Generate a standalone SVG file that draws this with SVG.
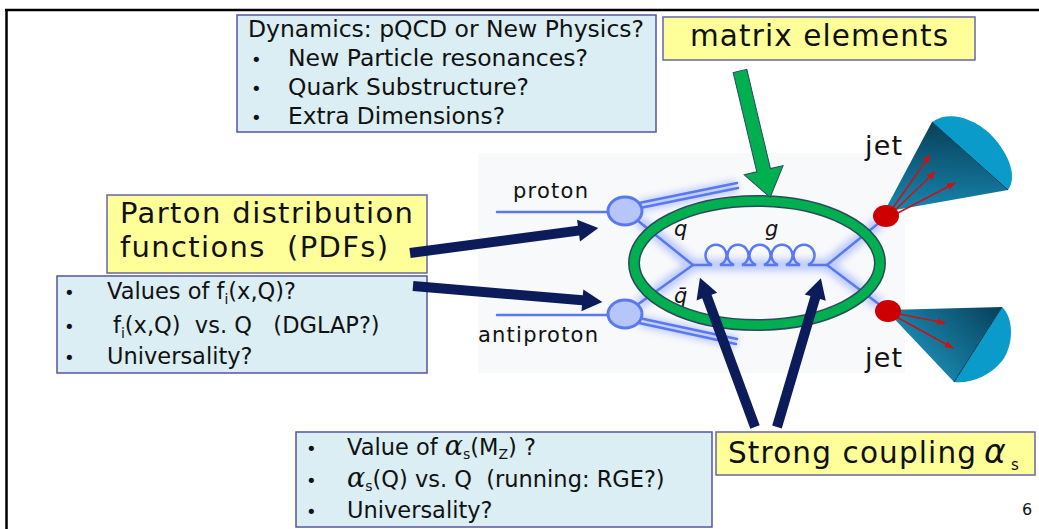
<svg xmlns="http://www.w3.org/2000/svg" width="1039" height="529" viewBox="0 0 1039 529">
<defs>
<style>
text{font-family:"DejaVu Sans","Liberation Sans",sans-serif;fill:#111}
.yb{fill:#ffff99;stroke:#6666aa;stroke-width:1.5}
.bb{fill:#daeef3;stroke:#5555a0;stroke-width:1.5}
.t{font-size:22.5px}
.bul{font-size:18px}
.gr{font-family:"DejaVu Serif","Liberation Serif",serif;font-size:27px;font-style:italic}
.sub{font-size:14px}
.ql{font-style:italic;font-size:21px}
.beam{fill:none;stroke:#5878f5;stroke-width:2.5;stroke-linecap:round}
.glow{fill:none;stroke:#8ea6ff;stroke-width:12;opacity:.55}
.navy{fill:#0c1c5a}
.ra{stroke:#c81414;stroke-width:1.6;fill:none}
.blob{fill:#b6c6fa;stroke:#5a78f0;stroke-width:3}
</style>
<filter id="blur" x="-20%" y="-20%" width="140%" height="140%"><feGaussianBlur stdDeviation="3.5"/></filter>
<marker id="rh" markerWidth="9" markerHeight="7" refX="8" refY="3.5" orient="auto" markerUnits="userSpaceOnUse"><path d="M0,0 L9,3.5 L0,7 Z" fill="#c81414"/></marker>
<linearGradient id="c1" gradientUnits="userSpaceOnUse" x1="935" y1="125" x2="930" y2="210"><stop offset="0" stop-color="#08425c"/><stop offset="1" stop-color="#1785ad"/></linearGradient>
<linearGradient id="c2" gradientUnits="userSpaceOnUse" x1="1000" y1="307" x2="930" y2="370"><stop offset="0" stop-color="#07405a"/><stop offset="1" stop-color="#1a88b0"/></linearGradient>
</defs>
<rect width="1039" height="529" fill="#fff"/>
<g id="frame"><path d="M5,10 H1039 M6.5,9 V529" stroke="#000" stroke-width="2.5" fill="none"/></g>

<g id="feynman">
<rect x="478" y="153" width="427" height="220" fill="#f8f9fb"/>
<g filter="url(#blur)" class="glow">
<path d="M640,206 L737,186 M640,321 L737,342 M638,220 L693,265 L638,305 M693,265 H827 L880,222 M827,265 L880,305"/>
</g>
<g class="beam">
<path d="M497,212 H608 M497,315 H608"/>
<path d="M639,203 L737,183 M640,208 L738,188"/>
<path d="M639,318 L737,339 M639,323 L736,344"/>
<path d="M637,220 L693,265 L637,305"/>
<path d="M693,265 L712,265 A10.5,10.5 0 1 1 720,265 L734,265 A10.5,10.5 0 1 1 742,265 L756,265 A10.5,10.5 0 1 1 764,265 L778,265 A10.5,10.5 0 1 1 786,265 L800,265 A10.5,10.5 0 1 1 808,265 L827,265"/>
<path d="M827,265 L880,222 M827,265 L880,305"/>
</g>
<ellipse class="blob" cx="625" cy="211" rx="17" ry="14"/>
<ellipse class="blob" cx="625" cy="314" rx="17" ry="14"/>
<text x="513" y="198" font-size="21" textLength="75" lengthAdjust="spacing">proton</text>
<text x="478" y="342" font-size="21" textLength="120" lengthAdjust="spacing">antiproton</text>
<text class="ql" x="674" y="236">q</text>
<text class="ql" x="765" y="236">g</text>
<text class="ql" x="674" y="303">q̄</text>
<ellipse cx="757" cy="263" rx="123" ry="62" fill="none" stroke="#2b4a5c" stroke-width="12"/>
<ellipse cx="757" cy="263" rx="123" ry="62" fill="none" stroke="#00b050" stroke-width="9"/>
<path d="M884,212 L932,122 L1008,190 Z" fill="url(#c1)"/>
<path d="M932,122 C952,108 980,122 994,138 C1008,154 1018,176 1008,190 Z" fill="#0a9bcb"/>
<path d="M932,122 L1008,190" stroke="#0a3a52" stroke-width="1"/>
<path d="M886,310 L1002,307 L954,382 Z" fill="url(#c2)"/>
<path d="M1002,307 C1014,318 1014,345 1002,361 C991,375 971,384 954,382 Z" fill="#0a9bcb"/>
<path d="M1002,307 L954,382" stroke="#0a3a52" stroke-width="1"/>
<g class="ra">
<path d="M890,212 L930,155" marker-end="url(#rh)"/>
<path d="M892,213 L935,172" marker-end="url(#rh)"/>
<path d="M894,215 L955,183" marker-end="url(#rh)"/>
<path d="M894,313 L945,323" marker-end="url(#rh)"/>
<path d="M893,315 L953,348" marker-end="url(#rh)"/>
</g>
<ellipse cx="886" cy="216" rx="13" ry="11" fill="#cc0000"/>
<ellipse cx="888" cy="311" rx="13" ry="11" fill="#cc0000"/>
<text x="865" y="155" font-size="27" textLength="37" lengthAdjust="spacing">jet</text>
<text x="865" y="367" font-size="27" textLength="37" lengthAdjust="spacing">jet</text>
</g>

<g id="node-dynamics">
<rect class="bb" x="237" y="15" width="419" height="117"/>
<text class="t" x="248" y="37" textLength="396" lengthAdjust="spacingAndGlyphs">Dynamics: pQCD or New Physics?</text>
<text class="bul" x="251" y="66">•</text>
<text class="t" x="288" y="66" textLength="300" lengthAdjust="spacingAndGlyphs">New Particle resonances?</text>
<text class="bul" x="251" y="95">•</text>
<text class="t" x="288" y="95" textLength="241" lengthAdjust="spacingAndGlyphs">Quark Substructure?</text>
<text class="bul" x="251" y="124">•</text>
<text class="t" x="288" y="124" textLength="217" lengthAdjust="spacingAndGlyphs">Extra Dimensions?</text>
</g>

<g id="node-matrix">
<rect class="yb" x="663" y="17" width="312" height="43"/>
<text x="690" y="46" font-size="29.5" textLength="258" lengthAdjust="spacing">matrix elements</text>
</g>

<g id="node-pdf-label">
<rect class="yb" x="107" y="195" width="320" height="78"/>
<text x="120" y="223" font-size="29" textLength="293" lengthAdjust="spacing">Parton distribution</text>
<text x="120" y="257" font-size="29" textLength="268" lengthAdjust="spacing" xml:space="preserve">functions  (PDFs)</text>
</g>

<g id="node-pdf-questions">
<rect class="bb" x="57" y="276" width="370" height="97"/>
<text class="bul" x="64" y="299">•</text>
<text class="t" x="107" y="299">Values of f<tspan class="sub" dy="5">i</tspan><tspan dy="-5">(x,Q)?</tspan></text>
<text class="bul" x="64" y="333">•</text>
<text class="t" x="113" y="333" xml:space="preserve">f<tspan class="sub" dy="5">i</tspan><tspan dy="-5">(x,Q)  vs. Q   (DGLAP?)</tspan></text>
<text class="bul" x="64" y="364">•</text>
<text class="t" x="107" y="364">Universality?</text>
</g>

<g id="node-strong-questions">
<rect class="bb" x="296" y="432" width="416" height="95"/>
<text class="bul" x="306" y="455">•</text>
<text class="t" x="347" y="455">Value of <tspan class="gr">α</tspan><tspan class="sub" dy="4">s</tspan><tspan dy="-4">(M</tspan><tspan class="sub" dy="4">Z</tspan><tspan dy="-4">) ?</tspan></text>
<text class="bul" x="306" y="487">•</text>
<text class="t" x="347" y="487" xml:space="preserve"><tspan class="gr">α</tspan><tspan class="sub" dy="4">s</tspan><tspan dy="-4">(Q) vs. Q  (running: RGE?)</tspan></text>
<text class="bul" x="306" y="518">•</text>
<text class="t" x="347" y="518">Universality?</text>
</g>

<g id="node-strong-label">
<rect class="yb" x="716" y="432" width="319" height="43"/>
<text x="728" y="463" font-size="29.5" textLength="248" lengthAdjust="spacing">Strong coupling</text>
<text x="984" y="463" font-family="DejaVu Serif, Liberation Serif, serif" font-style="italic" font-size="33">α</text>
<text x="1011" y="470" font-size="15">s</text>
</g>

<g id="page-number"><text x="1022" y="515" font-size="16">6</text></g>

<g id="connectors">
<polygon class="navy" transform="translate(410,253) rotate(-7.57)" points="0,-5 170,-5 170,-11 190,0 170,11 170,5 0,5"/>
<polygon class="navy" transform="translate(413,286) rotate(4.84)" points="0,-5 170,-5 170,-11 190,0 170,11 170,5 0,5"/>
<polygon class="navy" transform="translate(755,427) rotate(-110.26)" points="0,-5 139,-5 139,-11 159,0 139,11 139,5 0,5"/>
<polygon class="navy" transform="translate(777,427) rotate(-73.55)" points="0,-5 135,-5 135,-11 155,0 135,11 135,5 0,5"/>
<polygon transform="translate(740,71) rotate(76.6)" points="0,-7 102,-7 102,-20 130,0 102,20 102,7 0,7" fill="#00b050" stroke="#2b4a5c" stroke-width="1"/>
</g>
</svg>
